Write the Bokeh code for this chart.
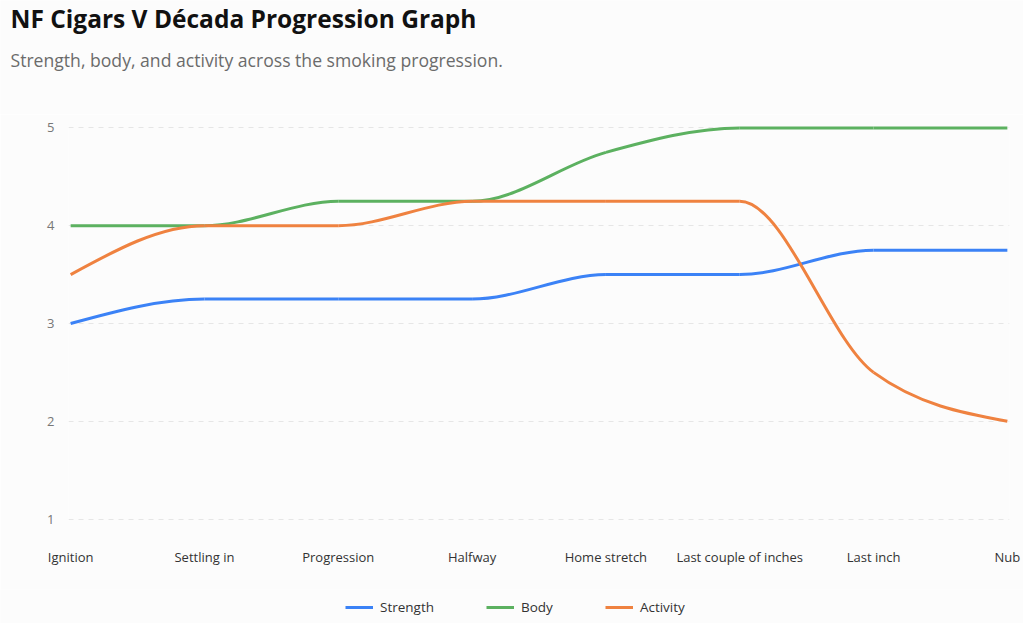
from bokeh.plotting import figure
from bokeh.layouts import column, row
from bokeh.models import (ColumnDataSource, FixedTicker, Legend, LegendItem, Label, Range1d)
from bokeh.embed import file_html
from bokeh.resources import INLINE

stages = ["Ignition", "Settling in", "Progression", "Halfway", "Home stretch",
          "Last couple of inches", "Last inch", "Nub"]
strength = [3, 3.25, 3.25, 3.25, 3.5, 3.5, 3.75, 3.75]
body = [4, 4, 4.25, 4.25, 4.75, 5, 5, 5]
activity = [3.5, 4, 4, 4.25, 4.25, 4.25, 2.5, 2]
series_names = ["Strength", "Body", "Activity"]
series_colors = ["#3b82f6", "#5cb160", "#ef8240"]
y_ticks = [1, 2, 3, 4, 5]
title_text = "NF Cigars V Década Progression Graph"
subtitle_text = "Strength, body, and activity across the smoking progression."

BG = "#fcfcfc"
W = 1023


def sign(v):
    return (v > 0) - (v < 0)


def monotone_segments(xs, ys):
    """Bezier control points of a monotone cubic curve (d3 curveMonotoneX)."""
    n = len(xs)
    h = [xs[i + 1] - xs[i] for i in range(n - 1)]
    s = [(ys[i + 1] - ys[i]) / h[i] for i in range(n - 1)]
    t = [0.0] * n
    for i in range(1, n - 1):
        s0, s1 = s[i - 1], s[i]
        p = (s0 * h[i] + s1 * h[i - 1]) / (h[i - 1] + h[i])
        t[i] = (sign(s0) + sign(s1)) * min(abs(s0), abs(s1), 0.5 * abs(p)) or 0.0
    t[0] = (3 * s[0] - t[1]) / 2 if n > 2 else s[0]
    t[-1] = (3 * s[-1] - t[-2]) / 2 if n > 2 else s[-1]
    seg = dict(x0=[], y0=[], x1=[], y1=[], cx0=[], cy0=[], cx1=[], cy1=[])
    for i in range(n - 1):
        d = h[i] / 3
        seg["x0"].append(xs[i]); seg["y0"].append(ys[i])
        seg["x1"].append(xs[i + 1]); seg["y1"].append(ys[i + 1])
        seg["cx0"].append(xs[i] + d); seg["cy0"].append(ys[i] + d * t[i])
        seg["cx1"].append(xs[i + 1] - d); seg["cy1"].append(ys[i + 1] - d * t[i + 1])
    return seg


def blank_figure(height):
    f = figure(width=W, height=height, output_backend="svg", toolbar_location=None,
               x_range=Range1d(0, 1), y_range=Range1d(0, 1),
               x_axis_location=None, y_axis_location=None,
               background_fill_color=BG, border_fill_color=BG,
               min_border=0, outline_line_color=None)
    f.xgrid.visible = False
    f.ygrid.visible = False
    return f


# ---- header (title + subtitle) ----
HH = 114
header = blank_figure(HH)
header.add_layout(Label(x=10, y=HH - 18, x_units="screen", y_units="screen",
                        text=title_text, text_font="Open Sans", text_font_size="24.5px",
                        text_font_style="bold", text_color="#111111",
                        text_baseline="middle", text_align="left"))
header.add_layout(Label(x=10, y=HH - 59, x_units="screen", y_units="screen",
                        text=subtitle_text, text_font="Open Sans", text_font_size="17.6px",
                        text_color="#6b6b6b", text_baseline="middle", text_align="left"))

# ---- main chart ----
xs = list(range(len(stages)))
p = figure(frame_width=941, frame_height=396, output_backend="svg", toolbar_location=None,
           x_range=Range1d(-0.016, len(stages) - 1 + 0.016),
           y_range=Range1d(0.975, 5.025),
           background_fill_color=BG, border_fill_color=BG,
           min_border_left=68, min_border_right=14, min_border_top=11, min_border_bottom=68,
           outline_line_color=None)
p.title = None

for name, vals, col in zip(series_names, [strength, body, activity], series_colors):
    src = ColumnDataSource(monotone_segments(xs, vals))
    p.bezier(x0="x0", y0="y0", x1="x1", y1="y1", cx0="cx0", cy0="cy0",
             cx1="cx1", cy1="cy1", source=src, line_color=col, line_width=3)

p.xaxis.ticker = FixedTicker(ticks=xs)
p.xaxis.major_label_overrides = {i: s for i, s in enumerate(stages)}
p.yaxis.ticker = FixedTicker(ticks=y_ticks)
for ax in (p.xaxis, p.yaxis):
    ax.axis_line_color = None
    ax.major_tick_line_color = None
    ax.minor_tick_line_color = None
    ax.major_label_text_font = "Open Sans"
    ax.major_label_text_font_size = "13px"
p.xaxis.major_label_text_color = "#333333"
p.yaxis.major_label_text_color = "#777777"
p.xaxis.major_label_standoff = 20
p.yaxis.major_label_standoff = 8

p.xgrid.grid_line_color = None
p.ygrid.grid_line_color = "#e6e6e6"
p.ygrid.grid_line_dash = "5 5"
p.ygrid.grid_line_width = 1

# ---- legend strip ----
LH = 34
leg = blank_figure(LH)
items = []
for name, col in zip(series_names, series_colors):
    proxy = leg.line(x=[0.5], y=[0.5], line_color=col, line_width=3)
    items.append(LegendItem(label=name, renderers=[proxy]))
legend = Legend(items=items, orientation="horizontal", location=(345, 7),
                border_line_color=None, background_fill_alpha=0,
                label_text_font="Open Sans", label_text_font_size="13.5px",
                label_text_color="#333333", glyph_width=28, glyph_height=16,
                label_height=16, spacing=52, label_standoff=7, margin=0, padding=0)
leg.add_layout(legend, "center")

layout = column(row(header), p, row(leg), spacing=0)
open("out.html", "w").write(file_html(layout, INLINE))
